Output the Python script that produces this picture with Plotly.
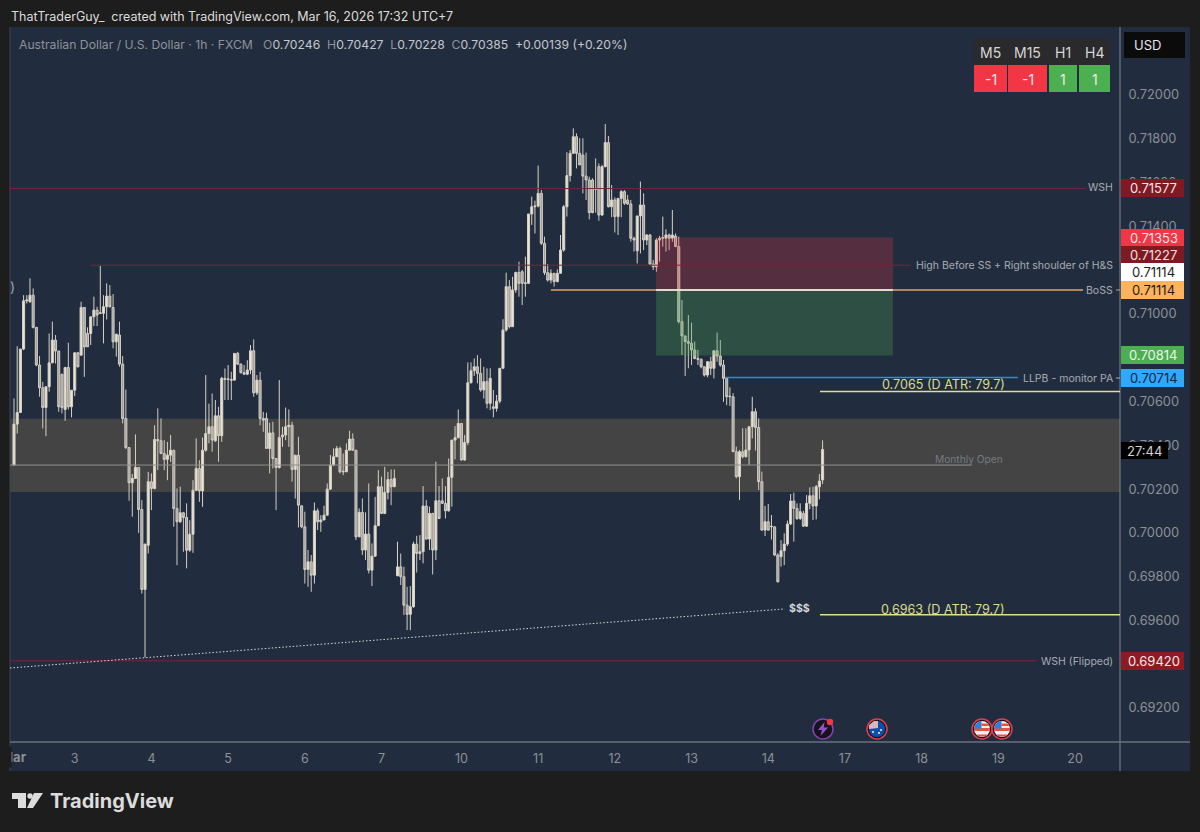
import plotly.graph_objects as go

# hourly AUDUSD candles
opens = [
    0.70314, 0.70501, 0.70554, 0.70844, 0.71064, 0.71060, 0.71090, 0.70943, 0.70771, 0.70667,
    0.70577, 0.70672, 0.70781, 0.70885, 0.70835, 0.70729, 0.70568, 0.70760, 0.70580, 0.70656,
    0.70827, 0.70816, 0.71034, 0.70915, 0.70915, 0.70991, 0.71022, 0.71007, 0.71007, 0.71037,
    0.71086, 0.71034, 0.70877, 0.70908, 0.70775, 0.70527, 0.70394, 0.70233, 0.70253, 0.70303,
    0.70111, 0.69746, 0.69948, 0.70238, 0.70207, 0.70431, 0.70425, 0.70367, 0.70340, 0.70359,
    0.70382, 0.70116, 0.70055, 0.70096, 0.70075, 0.69925, 0.69998, 0.70199, 0.70298, 0.70196,
    0.70382, 0.70458, 0.70489, 0.70425, 0.70539, 0.70448, 0.70710, 0.70705, 0.70705, 0.70702,
    0.70824, 0.70775, 0.70736, 0.70729, 0.70748, 0.70836, 0.70644, 0.70702, 0.70527, 0.70527,
    0.70390, 0.70461, 0.70344, 0.70303, 0.70443, 0.70451, 0.70489, 0.70496, 0.70294, 0.70359,
    0.70128, 0.70032, 0.69837, 0.69872, 0.69811, 0.70105, 0.70055, 0.70063, 0.70085, 0.70204,
    0.70314, 0.70352, 0.70390, 0.70283, 0.70283, 0.70382, 0.70433, 0.70382, 0.69986, 0.70098,
    0.69926, 0.69999, 0.69834, 0.69898, 0.70037, 0.70215, 0.70093, 0.70189, 0.70248, 0.70215,
    0.69808, 0.69849, 0.69804, 0.69674, 0.69632, 0.69667, 0.69953, 0.69910, 0.69918, 0.70127,
    0.69976, 0.70093, 0.69926, 0.70151, 0.70151, 0.70139, 0.70105, 0.70258, 0.70428, 0.70439,
    0.70504, 0.70337, 0.70417, 0.70690, 0.70745, 0.70763, 0.70733, 0.70657, 0.70695, 0.70596,
    0.70580, 0.70573, 0.70606, 0.70756, 0.70931, 0.71129, 0.70946, 0.71114, 0.71194, 0.71197,
    0.71144, 0.71144, 0.71461, 0.71494, 0.71497, 0.71555, 0.71327, 0.71193, 0.71159, 0.71190,
    0.71152, 0.71190, 0.71296, 0.71494, 0.71636, 0.71738, 0.71814, 0.71738, 0.71730, 0.71634,
    0.71616, 0.71616, 0.71578, 0.71677, 0.71456, 0.71677, 0.71787, 0.71494, 0.71525, 0.71449,
    0.71532, 0.71563, 0.71525, 0.71507, 0.71350, 0.71293, 0.71452, 0.71502, 0.71342, 0.71365,
    0.71232, 0.71220, 0.71342, 0.71350, 0.71350, 0.71365, 0.71350, 0.71360, 0.71312, 0.70969,
    0.70904, 0.70878, 0.70870, 0.70840, 0.70801, 0.70797, 0.70763, 0.70725, 0.70786, 0.70756,
    0.70836, 0.70812, 0.70771, 0.70710, 0.70626, 0.70626, 0.70375, 0.70261, 0.70375, 0.70352,
    0.70383, 0.70489, 0.70558, 0.70486, 0.70238, 0.70017, 0.70055, 0.70032, 0.70032, 0.69903,
    0.69895, 0.69923, 0.69953, 0.70045, 0.70150, 0.70116, 0.70070, 0.70093, 0.70035, 0.70139,
    0.70174, 0.70127, 0.70215, 0.70246,
]
highs = [
    0.70618, 0.70857, 0.70844, 0.71090, 0.71090, 0.71167, 0.71121, 0.70943, 0.70812, 0.70694,
    0.70672, 0.70915, 0.70969, 0.70908, 0.70835, 0.70729, 0.70760, 0.70873, 0.70656, 0.70827,
    0.70831, 0.71060, 0.71034, 0.70943, 0.70991, 0.71083, 0.71037, 0.71224, 0.71090, 0.71144,
    0.71136, 0.71095, 0.70912, 0.70969, 0.70812, 0.70659, 0.70394, 0.70273, 0.70454, 0.70303,
    0.70154, 0.69953, 0.70283, 0.70276, 0.70496, 0.70573, 0.70527, 0.70428, 0.70420, 0.70451,
    0.70382, 0.70207, 0.70215, 0.70100, 0.70139, 0.70062, 0.70245, 0.70436, 0.70336, 0.70440,
    0.70725, 0.70595, 0.70641, 0.70611, 0.70580, 0.70717, 0.70755, 0.70771, 0.70740, 0.70824,
    0.70831, 0.70778, 0.70771, 0.70793, 0.70862, 0.70888, 0.70725, 0.70740, 0.70557, 0.70553,
    0.70507, 0.70512, 0.70344, 0.70702, 0.70489, 0.70577, 0.70568, 0.70512, 0.70359, 0.70443,
    0.70128, 0.70101, 0.69926, 0.69903, 0.70143, 0.70116, 0.70085, 0.70128, 0.70230, 0.70360,
    0.70390, 0.70401, 0.70398, 0.70367, 0.70413, 0.70471, 0.70459, 0.70382, 0.70116, 0.70162,
    0.70098, 0.70230, 0.69956, 0.70169, 0.70291, 0.70261, 0.70306, 0.70283, 0.70294, 0.70294,
    0.69964, 0.69910, 0.69849, 0.69758, 0.69761, 0.69964, 0.69991, 0.69994, 0.70218, 0.70154,
    0.70124, 0.70096, 0.70329, 0.70218, 0.70253, 0.70218, 0.70344, 0.70428, 0.70492, 0.70568,
    0.70504, 0.70451, 0.70783, 0.70783, 0.70801, 0.70816, 0.70801, 0.70763, 0.70756, 0.70756,
    0.70657, 0.70634, 0.70756, 0.70980, 0.71193, 0.71159, 0.71174, 0.71197, 0.71243, 0.71205,
    0.71266, 0.71461, 0.71540, 0.71522, 0.71682, 0.71570, 0.71357, 0.71232, 0.71208, 0.71190,
    0.71208, 0.71365, 0.71502, 0.71743, 0.71753, 0.71852, 0.71829, 0.71807, 0.71807, 0.71741,
    0.71631, 0.71624, 0.71715, 0.71692, 0.71685, 0.71872, 0.71817, 0.71593, 0.71537, 0.71532,
    0.71570, 0.71570, 0.71548, 0.71525, 0.71357, 0.71452, 0.71609, 0.71555, 0.71369, 0.71369,
    0.71251, 0.71350, 0.71360, 0.71449, 0.71391, 0.71372, 0.71479, 0.71372, 0.71357, 0.71068,
    0.70904, 0.70999, 0.70964, 0.70878, 0.70840, 0.70801, 0.70763, 0.70789, 0.70809, 0.70840,
    0.70919, 0.70885, 0.70794, 0.70710, 0.70669, 0.70642, 0.70398, 0.70383, 0.70482, 0.70482,
    0.70492, 0.70626, 0.70573, 0.70527, 0.70284, 0.70127, 0.70136, 0.70086, 0.70032, 0.69911,
    0.69971, 0.70002, 0.70060, 0.70182, 0.70188, 0.70139, 0.70139, 0.70105, 0.70177, 0.70212,
    0.70215, 0.70223, 0.70273, 0.70427,
]
lows = [
    0.70314, 0.70458, 0.70554, 0.70839, 0.71052, 0.71055, 0.70938, 0.70766, 0.70626, 0.70481,
    0.70446, 0.70649, 0.70781, 0.70778, 0.70557, 0.70550, 0.70516, 0.70568, 0.70532, 0.70629,
    0.70760, 0.70816, 0.70717, 0.70854, 0.70862, 0.70949, 0.70949, 0.71004, 0.70870, 0.70979,
    0.71034, 0.70847, 0.70809, 0.70763, 0.70504, 0.70387, 0.70151, 0.70078, 0.70253, 0.70004,
    0.69727, 0.69435, 0.69910, 0.70108, 0.70203, 0.70291, 0.70364, 0.70291, 0.70245, 0.70329,
    0.70032, 0.69857, 0.70050, 0.69918, 0.69842, 0.69918, 0.69913, 0.70196, 0.70146, 0.70123,
    0.70375, 0.70413, 0.70375, 0.70420, 0.70329, 0.70420, 0.70611, 0.70611, 0.70611, 0.70699,
    0.70771, 0.70732, 0.70725, 0.70725, 0.70729, 0.70626, 0.70634, 0.70496, 0.70466, 0.70390,
    0.70276, 0.70298, 0.70108, 0.70298, 0.70397, 0.70428, 0.70397, 0.70238, 0.70161, 0.70029,
    0.70025, 0.69773, 0.69758, 0.69735, 0.69773, 0.70017, 0.70009, 0.70063, 0.70085, 0.70200,
    0.70309, 0.70352, 0.70276, 0.70268, 0.70283, 0.70382, 0.70379, 0.69971, 0.69986, 0.69903,
    0.69880, 0.69819, 0.69761, 0.69895, 0.70035, 0.70090, 0.70090, 0.70157, 0.70131, 0.70215,
    0.69808, 0.69766, 0.69629, 0.69560, 0.69560, 0.69662, 0.69823, 0.69880, 0.69865, 0.69974,
    0.69926, 0.69814, 0.69880, 0.70067, 0.70136, 0.70070, 0.70101, 0.70124, 0.70340, 0.70436,
    0.70334, 0.70334, 0.70405, 0.70687, 0.70721, 0.70687, 0.70649, 0.70618, 0.70573, 0.70565,
    0.70532, 0.70558, 0.70596, 0.70756, 0.70923, 0.70938, 0.70946, 0.71101, 0.71083, 0.71045,
    0.71083, 0.71144, 0.71411, 0.71372, 0.71491, 0.71319, 0.71182, 0.71152, 0.71144, 0.71129,
    0.71149, 0.71190, 0.71289, 0.71449, 0.71609, 0.71735, 0.71669, 0.71685, 0.71555, 0.71525,
    0.71436, 0.71464, 0.71467, 0.71430, 0.71452, 0.71674, 0.71491, 0.71446, 0.71376, 0.71365,
    0.71446, 0.71502, 0.71502, 0.71334, 0.71289, 0.71235, 0.71281, 0.71296, 0.71319, 0.71228,
    0.71205, 0.71197, 0.71243, 0.71312, 0.71289, 0.71296, 0.71334, 0.71312, 0.70961, 0.70817,
    0.70721, 0.70756, 0.70771, 0.70797, 0.70771, 0.70756, 0.70718, 0.70715, 0.70725, 0.70710,
    0.70786, 0.70763, 0.70603, 0.70588, 0.70584, 0.70375, 0.70253, 0.70154, 0.70345, 0.70349,
    0.70314, 0.70436, 0.70380, 0.70200, 0.70014, 0.69990, 0.70014, 0.69974, 0.69898, 0.69777,
    0.69850, 0.69857, 0.69944, 0.70040, 0.69964, 0.70063, 0.70063, 0.70032, 0.70032, 0.70112,
    0.70063, 0.70066, 0.70157, 0.70228,
]
closes = [
    0.70501, 0.70554, 0.70844, 0.71064, 0.71068, 0.71090, 0.70943, 0.70771, 0.70667, 0.70577,
    0.70672, 0.70781, 0.70885, 0.70835, 0.70580, 0.70577, 0.70760, 0.70580, 0.70656, 0.70827,
    0.70763, 0.71034, 0.70854, 0.70854, 0.70991, 0.71022, 0.70999, 0.71009, 0.71037, 0.71086,
    0.71037, 0.70877, 0.70912, 0.70775, 0.70527, 0.70394, 0.70233, 0.70253, 0.70303, 0.70111,
    0.69746, 0.69953, 0.70238, 0.70207, 0.70431, 0.70425, 0.70367, 0.70340, 0.70359, 0.70382,
    0.70116, 0.70055, 0.70096, 0.70075, 0.69925, 0.69998, 0.70199, 0.70298, 0.70196, 0.70382,
    0.70458, 0.70489, 0.70428, 0.70539, 0.70448, 0.70710, 0.70705, 0.70707, 0.70702, 0.70824,
    0.70775, 0.70736, 0.70729, 0.70748, 0.70836, 0.70644, 0.70702, 0.70527, 0.70519, 0.70390,
    0.70461, 0.70344, 0.70303, 0.70440, 0.70451, 0.70489, 0.70496, 0.70294, 0.70359, 0.70131,
    0.70032, 0.69837, 0.69872, 0.69811, 0.70105, 0.70055, 0.70063, 0.70085, 0.70204, 0.70314,
    0.70352, 0.70390, 0.70283, 0.70285, 0.70382, 0.70433, 0.70382, 0.69986, 0.70098, 0.69926,
    0.69999, 0.69834, 0.69898, 0.70037, 0.70215, 0.70093, 0.70189, 0.70248, 0.70215, 0.70253,
    0.69849, 0.69804, 0.69674, 0.69632, 0.69667, 0.69953, 0.69910, 0.69918, 0.70127, 0.69976,
    0.70093, 0.69926, 0.70151, 0.70070, 0.70139, 0.70105, 0.70258, 0.70428, 0.70439, 0.70504,
    0.70337, 0.70417, 0.70690, 0.70745, 0.70763, 0.70733, 0.70657, 0.70695, 0.70596, 0.70710,
    0.70573, 0.70606, 0.70756, 0.70931, 0.71129, 0.70946, 0.71114, 0.71194, 0.71144, 0.71144,
    0.71146, 0.71461, 0.71494, 0.71497, 0.71555, 0.71327, 0.71193, 0.71159, 0.71190, 0.71152,
    0.71190, 0.71296, 0.71494, 0.71636, 0.71738, 0.71814, 0.71738, 0.71685, 0.71634, 0.71616,
    0.71467, 0.71467, 0.71574, 0.71456, 0.71677, 0.71787, 0.71494, 0.71525, 0.71449, 0.71532,
    0.71563, 0.71510, 0.71507, 0.71350, 0.71342, 0.71452, 0.71502, 0.71342, 0.71365, 0.71232,
    0.71220, 0.71342, 0.71350, 0.71352, 0.71365, 0.71350, 0.71365, 0.71312, 0.70969, 0.70904,
    0.70878, 0.70870, 0.70840, 0.70801, 0.70797, 0.70763, 0.70725, 0.70786, 0.70756, 0.70836,
    0.70812, 0.70771, 0.70710, 0.70626, 0.70628, 0.70375, 0.70261, 0.70375, 0.70352, 0.70383,
    0.70489, 0.70558, 0.70486, 0.70238, 0.70017, 0.70055, 0.70017, 0.70034, 0.69903, 0.69781,
    0.69923, 0.69953, 0.70045, 0.70150, 0.70116, 0.70070, 0.70101, 0.70035, 0.70139, 0.70174,
    0.70127, 0.70215, 0.70241, 0.70385,
]

# x axis labels, at bar numbers
date_labels = ["3", "4", "5", "6", "7", "10", "11", "12", "13", "14", "17", "18", "19", "20"]
date_bars = [19, 43, 67, 91, 115, 140, 164, 188, 212, 236, 260, 284, 308, 332]
# 0.694, 0.708 and 0.712 sit fully behind price tags in the picture
price_ticks = [0.692, 0.696, 0.698, 0.700, 0.702, 0.704, 0.706,
               0.710, 0.714, 0.716, 0.718, 0.720]

# horizontal levels: price, first bar, last bar, colour, width
level_prices = [0.71577, 0.71227, 0.71114, 0.70714, 0.7065, 0.6963, 0.70314, 0.6942]
level_starts = [-1.25, 24, 168, 222.5, 252.2, 252.2, -1.25, -1.25]
level_ends = [335.4, 280.7, 334.5, 314.1, 346.06, 346.06, 299.7, 319.8]
level_colors = ["#7c2236", "#7c2236", "#dca566", "#2f8ad0", "#e0e088", "#e0e088", "#8f8f8a", "#7c2236"]
level_widths = [1, 1, 1.5, 1.5, 1.5, 1.5, 1, 1]

stop_price = 0.71353
entry_price = 0.71114
target_price = 0.70814
trade_bars = [200.9, 275]
zone_prices = [0.70191, 0.70525]
trend_bars = [-1.25, 241.2]
trend_prices = [0.69387, 0.69657]

# price tags on the scale
tag_texts = ["0.71577", "0.71353", "0.71227", "0.71114", "0.71114", "0.70814", "0.70714", "0.69420"]
tag_rows = [188, 238, 255, 272, 290, 355, 378, 661]
tag_fills = ["#801922", "#f23645", "#801922", "#ffffff", "#ffb35c", "#4caf50", "#2fa8ff", "#8e1a24"]
tag_inks = ["#f0e6e6", "#f7e4e6", "#f0e0e0", "#1c1c1c", "#1c1c1c", "#eaf5ea", "#10243c", "#f4e8e8"]

# M5/M15/H1/H4 table
table_heads = ["M5", "M15", "H1", "H4"]
table_values = ["-1", "-1", "1", "1"]
table_left = [974, 1008, 1049, 1079]
table_right = [1007, 1047, 1077, 1110]
table_fills = ["#f23645", "#f23645", "#4caf50", "#4caf50"]

FONT = "Inter"
PAGE = "#1d1d1d"
PANE = "#212d3f"


def px(x):
    return (x - 10) / 1110


def py(y):
    return (742 - y) / 715


fig = go.Figure()
fig.add_trace(go.Candlestick(
    x=list(range(len(opens))), open=opens, high=highs, low=lows, close=closes,
    increasing=dict(fillcolor="#ece4d6", line=dict(color="#d8d2c4", width=1)),
    decreasing=dict(fillcolor="#a3a19b", line=dict(color="#d0ccc2", width=1)),
    whiskerwidth=0, hoverinfo="skip", showlegend=False,
))

shapes = []
notes = []


def box(x0, y0, x1, y1, fill, layer="below"):
    shapes.append(dict(type="rect", xref="paper", yref="paper", x0=px(x0), x1=px(x1),
                       y0=py(y0), y1=py(y1), fillcolor=fill, line_width=0, layer=layer))


def rule(x0, y0, x1, y1, color, width=1):
    shapes.append(dict(type="line", xref="paper", yref="paper", x0=px(x0), x1=px(x1),
                       y0=py(y0), y1=py(y1), line=dict(color=color, width=width), layer="above"))


def note(text, x, y, anchor="left", size=10.5, color="#a8abb1", **kw):
    notes.append(dict(text=text, xref="paper", yref="paper", x=px(x), y=py(y), xanchor=anchor,
                      yanchor="middle", showarrow=False, borderpad=0, borderwidth=0,
                      font=dict(family=FONT, size=size, color=color), **kw))


def poly(points, fill, cx, cy):
    path = "M " + " L ".join(f"{a} {b}" for a, b in points) + " Z"
    shapes.append(dict(type="path", path=path, xref="paper", yref="paper", xsizemode="pixel",
                       ysizemode="pixel", xanchor=px(cx), yanchor=py(cy), fillcolor=fill,
                       line_width=0, layer="above"))


def disc(r, fill, cx, cy, edge=None, width=0):
    shapes.append(dict(type="circle", xref="paper", yref="paper", xsizemode="pixel", ysizemode="pixel",
                       xanchor=px(cx), yanchor=py(cy), x0=-r, x1=r, y0=-r, y1=r, fillcolor=fill,
                       line=dict(color=edge or fill, width=width), layer="above"))


# frame around pane and scales
box(10, 27, 1190, 771, PANE)
rule(10, 27, 10, 771, "#3b4656")
rule(1120, 27, 1120, 771, "#7f8792")
rule(10, 742, 1190, 742, "#69717c", 1.5)

# grey zone, trade box, levels
shapes.append(dict(type="rect", xref="paper", yref="y", x0=0, x1=1, y0=zone_prices[0], y1=zone_prices[1],
                   fillcolor="#444444", line_width=0, layer="below"))
shapes.append(dict(type="rect", xref="x", yref="y", x0=trade_bars[0], x1=trade_bars[1], y0=entry_price,
                   y1=stop_price, fillcolor="rgba(242,54,69,0.25)", line_width=0, layer="above"))
shapes.append(dict(type="rect", xref="x", yref="y", x0=trade_bars[0], x1=trade_bars[1], y0=target_price,
                   y1=entry_price, fillcolor="rgba(76,175,80,0.27)", line_width=0, layer="above"))
for price, start, end, color, lw in zip(level_prices, level_starts, level_ends, level_colors, level_widths):
    shapes.append(dict(type="line", xref="x", yref="y", x0=start, x1=end, y0=price, y1=price,
                       line=dict(color=color, width=lw), layer="above"))
shapes.append(dict(type="line", xref="x", yref="y", x0=trade_bars[0], x1=trade_bars[1], y0=entry_price,
                   y1=entry_price, line=dict(color="#f2f2f2", width=1.5), layer="above"))
shapes.append(dict(type="line", xref="x", yref="y", x0=trend_bars[0], x1=trend_bars[1], y0=trend_prices[0],
                   y1=trend_prices[1], line=dict(color="#d8dbe0", width=1, dash="1.5px,2px"), layer="above"))
rule(1116, 290, 1120, 290, "#a8abb1")
rule(1116, 378, 1120, 378, "#a8abb1")

# header texts
note("ThatTraderGuy_  created with TradingView.com, Mar 16, 2026 17:32 UTC+7", 11, 16, size=12.5, color="#dcdcdc")
grey = "#8f9297"
light = "#c4c6ca"
note(f"Australian Dollar / U.S. Dollar · 1h · FXCM &nbsp;<span style='color:{light}'> </span>"
     f"O<span style='color:{light}'>0.70246</span>  H<span style='color:{light}'>0.70427</span>  "
     f"L<span style='color:{light}'>0.70228</span>  C<span style='color:{light}'>0.70385</span>  "
     f"<span style='color:{light}'>+0.00139 (+0.20%)</span>", 19, 44, size=12.2, color=grey)

# level labels
note("WSH", 1113, 188, "right")
note("High Before SS + Right shoulder of H&amp;S", 1113, 265, "right")
note("BoSS", 1113, 290, "right")
note("LLPB - monitor PA", 1113, 378, "right")
note("WSH (Flipped)", 1113, 661, "right")
note("Monthly Open", 969, 459, "center", size=10.2, color="#777a7e")
note("0.7065 (D ATR: 79.7)", 943, 384, "center", size=12.6, color="#dcdc8c")
note("0.6963 (D ATR: 79.7)", 943, 609, "center", size=12.6, color="#dcdc8c")
note("<b>$$$</b>", 799, 608, "center", size=10.5, color="#d6d8dc")
note(")", 10, 286, size=14, color="#9ea2a8")

# table
box(974, 38, 1110, 65, "#2a2a2c", "above")
for head, val, x0, x1, fill in zip(table_heads, table_values, table_left, table_right, table_fills):
    box(x0, 65, x1, 92, fill, "above")
    note(head, (x0 + x1) / 2, 52, "center", size=14, color="#d6d6d6")
    note(val, (x0 + x1) / 2, 79, "center", size=14, color="#efe9e9")

# scale tags and boxes
for text, row, fill, ink in zip(tag_texts, tag_rows, tag_fills, tag_inks):
    box(1121, row - 9, 1184, row + 9, fill, "above")
for text, row, fill, ink in zip(tag_texts, tag_rows, tag_fills, tag_inks):
    note(text, 1153.5, row, "center", size=13, color=ink)
box(1124, 32, 1185, 58, "#0b0b0c", "above")
note("USD", 1134, 45, size=13, color="#e6e6e6")
box(1121, 442, 1168, 459, "#000000", "above")
note("27:44", 1144.5, 450.5, "center", size=13, color="#d2d2d2")

# month label is cut by the left edge of the pane
note("<b>Mar</b>", 1, 757, size=13, color="#8d9096")
notes.append(dict(text=" ", xref="paper", yref="paper", x=px(0), y=py(757), xanchor="left", yanchor="middle",
                  showarrow=False, width=10, height=20, bgcolor=PAGE, borderpad=0))

# events row
ev_y = 729
disc(10, "#14141c", 823, ev_y, "#8e3fb0", 1.5)
poly([(1.5, 7), (-5, -1), (-1, -1), (-2.5, -7), (5, 1.5), (0.8, 1.5)], "#9a4fd0", 823, ev_y)
disc(3.2, "#f23645", 830, ev_y - 7)
disc(10, "#141420", 877, ev_y, "#e0414d", 1.5)
disc(8, "#0f4fa8", 877, ev_y)
poly([(-8, 0), (-8, 4), (-3, 8), (1, 8), (1, 1)], "#d8b8c0", 877, ev_y)
disc(1, "#f0f0f0", 881, ev_y + 1)
disc(1, "#f0f0f0", 879, ev_y + 4)
disc(1, "#f0f0f0", 873, ev_y + 3)
for cx in (982, 1002):
    disc(10, "#141420", cx, ev_y, "#e0414d", 1.5)
    disc(8, "#f0eeee", cx, ev_y)
    poly([(-8, 1), (8, 1), (7.6, -2), (-7.6, -2)], "#e8533f", cx, ev_y)
    poly([(-5.5, -5.5), (5.5, -5.5), (3, -7.5), (-3, -7.5)], "#e8533f", cx, ev_y)
    poly([(-8, 0.6), (-0.5, 0.6), (-0.5, 8), (-3, 7.5), (-6.5, 4.5)], "#2f7fe0", cx, ev_y)
    poly([(-0.5, 3), (7.2, 3), (5.5, 5.5), (-0.5, 5.5)], "#e8533f", cx, ev_y)

# TradingView logo
lx, ly = 12, 808
poly([(0, 15), (14, 15), (14, 0), (6, 0), (6, 9), (0, 9)], "#dcdcdc", lx, ly)
disc(2.7, "#dcdcdc", 30, 796)
poly([(22, 15), (31, 15), (21, 0), (15, 0)], "#dcdcdc", lx, ly)
note("<b>TradingView</b>", 50, 801, size=20, color="#dcdcdc")

fig.update_layout(
    width=1200, height=832,
    margin=dict(l=10, r=80, t=27, b=90),
    paper_bgcolor=PAGE, plot_bgcolor="rgba(0,0,0,0)",
    showlegend=False, hovermode=False, dragmode=False,
    boxgap=0.2, boxgroupgap=0.2,
    shapes=shapes, annotations=notes,
    xaxis=dict(range=[-1.25, 346.06], rangeslider=dict(visible=False), showgrid=False, zeroline=False,
               tickmode="array", tickvals=date_bars, ticktext=date_labels, ticks="outside", ticklen=5,
               tickcolor="rgba(0,0,0,0)", tickfont=dict(family=FONT, size=12.5, color="#8d9096")),
    yaxis=dict(side="right", range=[0.69049, 0.72315], showgrid=False, zeroline=False,
               tickmode="array", tickvals=price_ticks, tickformat=".5f", ticks="outside", ticklen=5,
               ticklabelshift=-1, tickcolor="rgba(0,0,0,0)", tickfont=dict(family=FONT, size=12.8, color="#8d9096")),
)

# browser default body margin would push the chart 8px off
fig.write_html("out.html", config=dict(displayModeBar=False), post_script="document.body.style.margin='0';")
